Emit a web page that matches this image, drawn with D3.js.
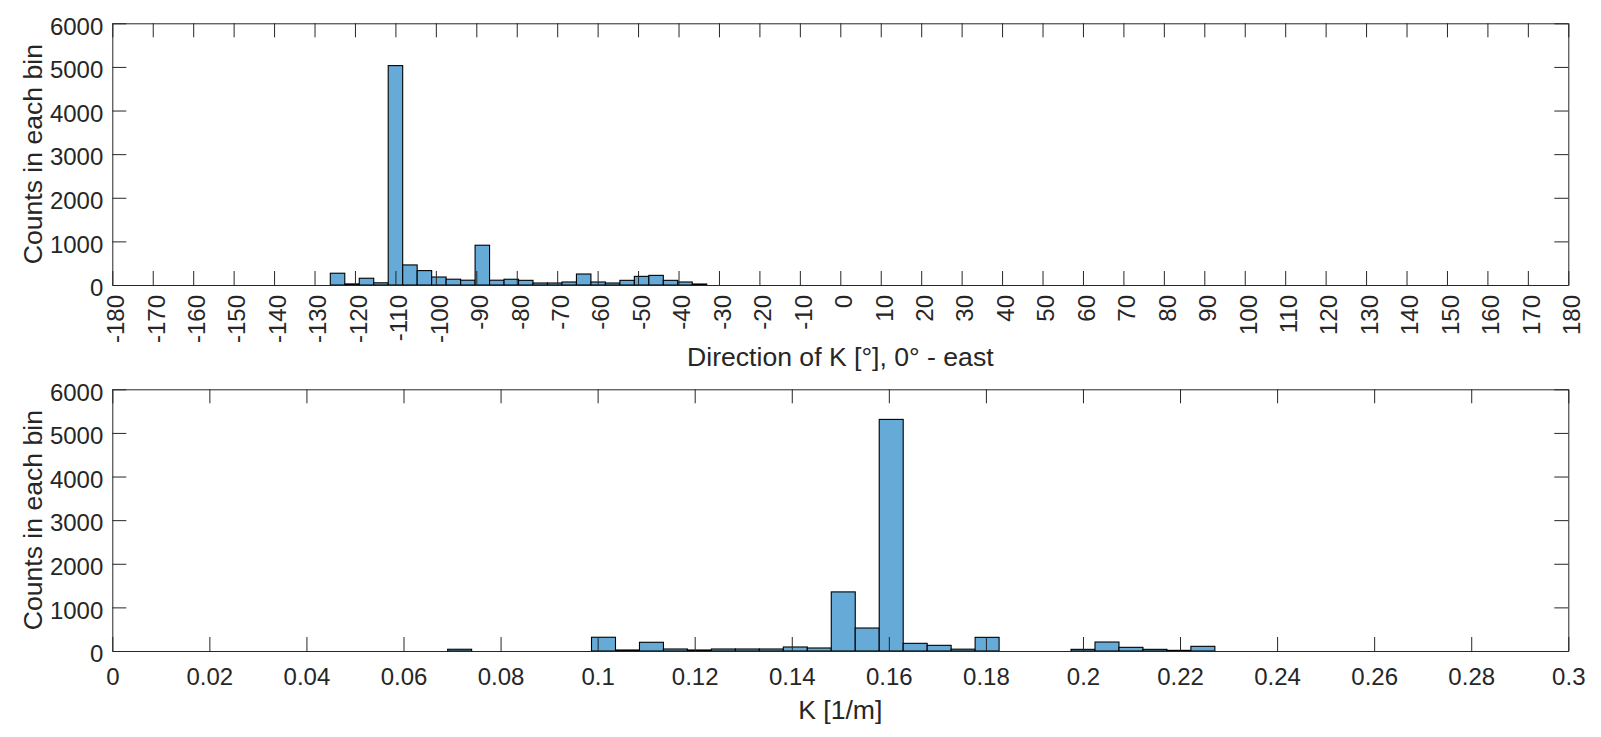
<!DOCTYPE html>
<html><head><meta charset="utf-8">
<script src="https://cdn.jsdelivr.net/npm/d3@7"></script>
<style>
body{margin:0;background:#fff}
text{font-family:"Liberation Sans",Arial,Helvetica,sans-serif;fill:#262626}
</style>
</head><body>
<svg id="c" width="1601" height="737"></svg>
<script>
// ---------- data ----------
const dirEdges = [-126.10,-122.52,-118.94,-115.36,-111.78,-108.20,-104.62,-101.04,-97.46,-93.88,
  -90.30,-86.72,-83.14,-79.56,-75.98,-72.40,-68.82,-65.24,-61.66,-58.08,-54.50,-50.92,-47.34,
  -43.76,-40.18,-36.60,-33.02];
const dirCounts = [270,25,155,50,5030,460,330,183,133,110,912,110,132,107,46,46,69,252,69,46,107,198,221,107,69,23];

const kEdges = [0.06910,0.07404,0.07898,0.08392,0.08886,0.09380,0.09874,0.10368,0.10862,0.11356,
  0.11850,0.12344,0.12838,0.13332,0.13826,0.14320,0.14814,0.15308,0.15802,0.16296,0.16790,
  0.17284,0.17778,0.18272,0.18766,0.19260,0.19754,0.20248,0.20742,0.21236,0.21730,0.22224,0.22718];
const kCounts = [40,0,0,0,0,0,315,23,200,46,23,46,46,46,92,69,1355,527,5310,176,130,42,313,0,0,0,38,206,84,38,15,107];

const dirTicks = [-180,-170,-160,-150,-140,-130,-120,-110,-100,-90,-80,-70,-60,-50,-40,-30,-20,-10,
  0,10,20,30,40,50,60,70,80,90,100,110,120,130,140,150,160,170,180];
const kTicks = [0,0.02,0.04,0.06,0.08,0.1,0.12,0.14,0.16,0.18,0.2,0.22,0.24,0.26,0.28,0.3];
const kTickLabels = ["0","0.02","0.04","0.06","0.08","0.1","0.12","0.14","0.16","0.18","0.2","0.22","0.24","0.26","0.28","0.3"];
const countTicks = [0,1000,2000,3000,4000,5000,6000];
const countTickLabels = ["0","1000","2000","3000","4000","5000","6000"];

const yTitle = "Counts in each bin";
const dirTitle = "Direction of K [°], 0° - east";
const kTitle = "K [1/m]";

// ---------- drawing ----------
const svg = d3.select("#c");
svg.append("rect").attr("width",1601).attr("height",737).attr("fill","#fff");

const L = 112.3, R = 1568.3, TICK = 14, AX = "#262626";
const FILL = "#66AAD7";
const tickFont = "24px", titleFont = "26.6px";

function panel(cfg){
  const g = svg.append("g");
  const x = d3.scaleLinear().domain(cfg.xDomain).range([L, R]);
  const y = d3.scaleLinear().domain([0, 6000]).range([cfg.bottom, cfg.top]);
  const bins = cfg.counts.map((c,i)=>({x0:cfg.edges[i], x1:cfg.edges[i+1], c}));

  g.append("g").selectAll("rect").data(bins).join("rect")
    .attr("x", d=>x(d.x0)).attr("width", d=>x(d.x1)-x(d.x0))
    .attr("y", d=>y(d.c)).attr("height", d=>y(0)-y(d.c))
    .attr("fill", FILL).attr("stroke", "#000").attr("stroke-width", 1.1);

  const xb = g.append("g").attr("transform", `translate(0,${cfg.bottom})`)
    .call(d3.axisBottom(x).tickValues(cfg.ticks).tickSizeInner(-TICK).tickSizeOuter(0)
      .tickPadding(17).tickFormat((d,i)=>cfg.tickLabels ? cfg.tickLabels[i] : String(d)));
  g.append("g").attr("transform", `translate(0,${cfg.top})`)
    .call(d3.axisTop(x).tickValues(cfg.ticks).tickSizeInner(-TICK).tickSizeOuter(0).tickFormat(""));
  g.append("g").attr("transform", `translate(${L},0)`)
    .call(d3.axisLeft(y).tickValues(countTicks).tickSizeInner(-TICK).tickSizeOuter(0).tickPadding(9)
      .tickFormat((d,i)=>countTickLabels[i]))
    .selectAll("text").attr("dy","0.45em");
  g.append("g").attr("transform", `translate(${R},0)`)
    .call(d3.axisRight(y).tickValues(countTicks).tickSizeInner(-TICK).tickSizeOuter(0).tickFormat(""));

  g.selectAll(".domain, .tick line").attr("stroke", AX).attr("stroke-width", 1);
  g.selectAll(".tick text").attr("font-size", tickFont).attr("fill", AX)
    .style("font-family", '"Liberation Sans",Arial,sans-serif');

  if (cfg.rotate){
    xb.selectAll(".tick text")
      .attr("transform","rotate(-90)")
      .attr("text-anchor","end")
      .attr("x",-10).attr("y",0).attr("dy","0.47em");
  }

  g.append("text").attr("transform", `translate(42.3,${(cfg.top+cfg.bottom)/2}) rotate(-90)`)
    .attr("text-anchor","middle").attr("font-size", titleFont).text(yTitle);
  g.append("text").attr("x", (L+R)/2).attr("y", cfg.titleY)
    .attr("text-anchor","middle").attr("font-size", titleFont).text(cfg.title);
}

panel({xDomain:[-180,180], top:23.3, bottom:285, edges:dirEdges, counts:dirCounts,
  ticks:dirTicks, rotate:true, title:dirTitle, titleY:366});
panel({xDomain:[0,0.3], top:389.3, bottom:651, edges:kEdges, counts:kCounts,
  ticks:kTicks, tickLabels:kTickLabels, rotate:false, title:kTitle, titleY:719});
</script>
</body></html>
